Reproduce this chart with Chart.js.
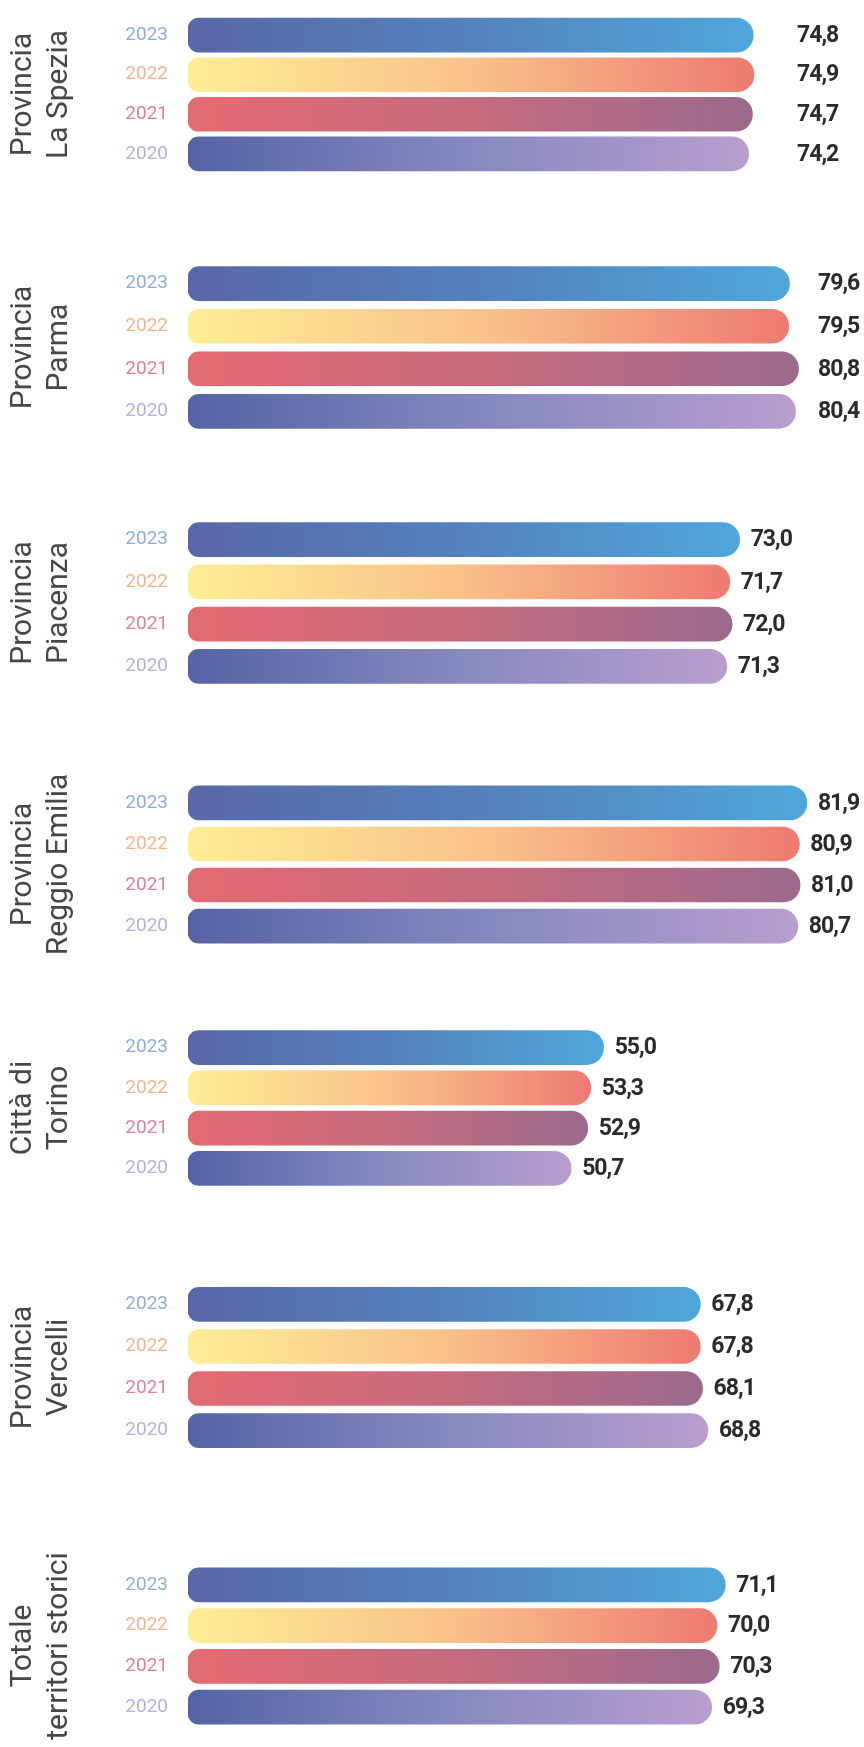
<!DOCTYPE html>
<html>
<head>
<meta charset="utf-8">
<script src="https://cdn.jsdelivr.net/npm/chart.js@4.4.1/dist/chart.umd.min.js"></script>
<style>
  html, body { margin: 0; padding: 0; background: #fff; overflow: hidden; }
  #page { position: relative; width: 864px; height: 1747px; }
  #page canvas { position: absolute; left: 0; }
</style>
</head>
<body>
<div id="page"></div>
<script>
// data
const years = ['2023', '2022', '2021', '2020'];
const territories = [
  ['Provincia', 'La Spezia'],
  ['Provincia', 'Parma'],
  ['Provincia', 'Piacenza'],
  ['Provincia', 'Reggio Emilia'],
  ['Città di', 'Torino'],
  ['Provincia', 'Vercelli'],
  ['Totale', 'territori storici']
];
const laSpezia = [74.8, 74.9, 74.7, 74.2];
const parma = [79.6, 79.5, 80.8, 80.4];
const piacenza = [73.0, 71.7, 72.0, 71.3];
const reggioEmilia = [81.9, 80.9, 81.0, 80.7];
const torino = [55.0, 53.3, 52.9, 50.7];
const vercelli = [67.8, 67.8, 68.1, 68.8];
const totale = [71.1, 70.0, 70.3, 69.3];
const series = [laSpezia, parma, piacenza, reggioEmilia, torino, vercelli, totale];

// look
const yearColors = ['#8fadd9', '#f7b48c', '#e17f97', '#b2b2de'];
const yearGradients = [
  ['#5967a7', '#5482bd', '#4fa7dc'],
  ['#fdee95', '#f9c18b', '#ee7a71'],
  ['#e46a72', '#c56b7e', '#9b6a8d'],
  ['#5563a5', '#8689bf', '#b99ecf']
];
// centre of the first bar of each group and distance between bars
const groupFirst = [30, 278, 534, 797, 1042, 1299, 1579];
const groupPitch = [43.3, 46.2, 46, 44.7, 43.9, 45.7, 44.5];
// some groups keep their value labels in one column
const labelColumn = [797, 818, null, null, null, null, null];
const padV = 24;
const axisLeft = 188;
const xMax = 88;

function fmt(v) {
  return v.toFixed(1).replace('.', ',');
}

function barFill(context) {
  const chart = context.chart;
  const stops = yearGradients[context.dataIndex % 4];
  if (!chart.chartArea || context.raw === undefined) return stops[0];
  const x = chart.scales.x;
  const x0 = x.getPixelForValue(0);
  const x1 = x.getPixelForValue(context.raw);
  const g = chart.ctx.createLinearGradient(x0, 0, x1, 0);
  stops.forEach((c, i) => g.addColorStop(i / (stops.length - 1), c));
  return g;
}

const valueLabels = {
  id: 'valueLabels',
  afterDatasetsDraw(chart, args, opts) {
    const ctx = chart.ctx;
    const meta = chart.getDatasetMeta(0);
    const data = chart.data.datasets[0].data;
    ctx.save();
    ctx.font = 'bold 23px Roboto, sans-serif';
    ctx.letterSpacing = '-1px';
    ctx.fillStyle = '#2b2b2b';
    ctx.textAlign = 'left';
    ctx.textBaseline = 'middle';
    meta.data.forEach((bar, i) => {
      const x = opts.column != null ? opts.column : bar.x + 11;
      ctx.fillText(fmt(data[i]), x, bar.y + 1);
    });
    ctx.restore();
  }
};

const page = document.getElementById('page');

series.forEach((values, g) => {
  const pitch = groupPitch[g];
  const h = Math.round(4 * pitch + 2 * padV);
  const canvas = document.createElement('canvas');
  canvas.width = 864;
  canvas.height = h;
  canvas.style.top = Math.round(groupFirst[g] - pitch / 2 - padV) + 'px';
  page.appendChild(canvas);

  new Chart(canvas.getContext('2d'), {
    type: 'bar',
    data: {
      labels: years,
      datasets: [{
        data: values,
        backgroundColor: barFill,
        borderWidth: 0,
        borderSkipped: false,
        borderRadius: { topLeft: 11, bottomLeft: 11, topRight: 17, bottomRight: 17 },
        barThickness: 34
      }]
    },
    options: {
      indexAxis: 'y',
      responsive: false,
      animation: false,
      layout: { padding: { top: padV, bottom: padV, left: 0, right: 11 } },
      plugins: {
        legend: { display: false },
        tooltip: { enabled: false },
        valueLabels: { column: labelColumn[g] }
      },
      scales: {
        x: { display: false, min: 0, max: xMax },
        y: {
          grid: { display: false, drawTicks: false },
          border: { display: false },
          ticks: {
            padding: 20,
            color: (c) => yearColors[c.index],
            font: { family: 'Roboto', size: 19 }
          },
          title: {
            display: true,
            text: territories[g],
            color: '#474747',
            font: { family: 'Roboto', size: 30, lineHeight: 1.2 },
            padding: { top: 5.5, bottom: 0 }
          },
          afterFit(scale) { scale.width = axisLeft; }
        }
      }
    },
    plugins: [valueLabels]
  });
});
</script>
</body>
</html>
